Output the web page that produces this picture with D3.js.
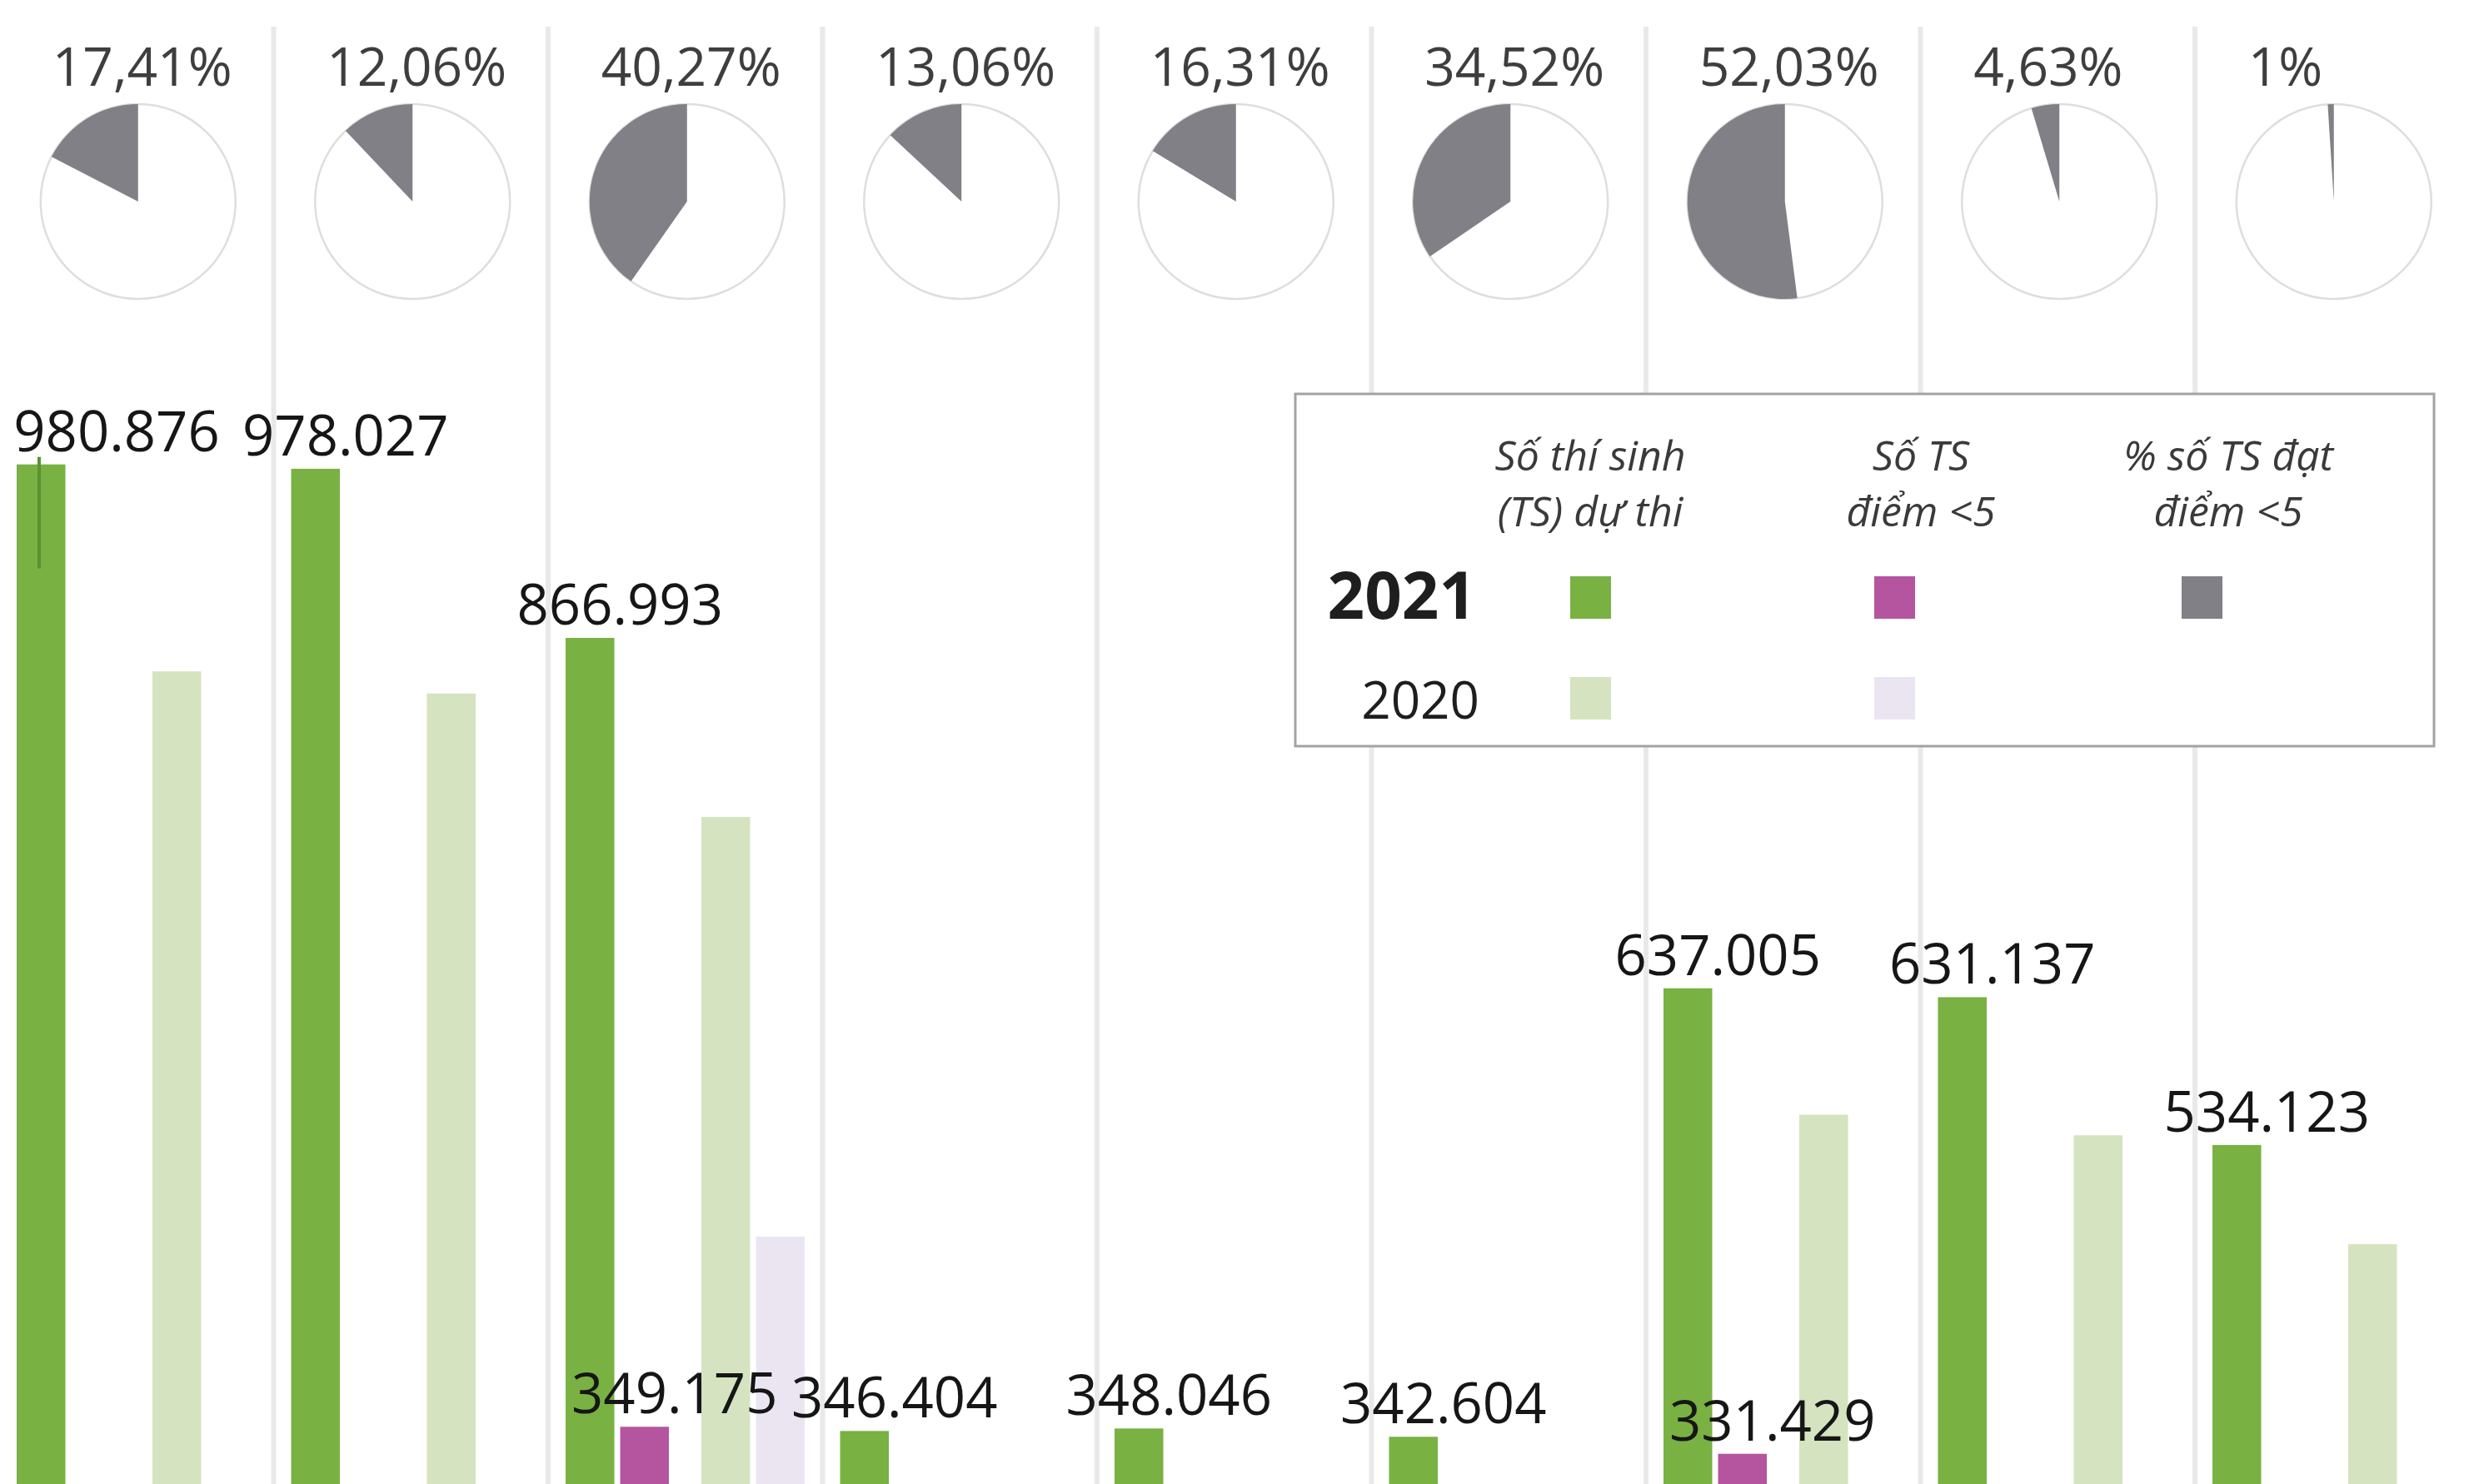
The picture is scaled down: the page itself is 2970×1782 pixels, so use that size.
<!DOCTYPE html>
<html>
<head>
<meta charset="utf-8">
<script src="https://cdn.jsdelivr.net/npm/d3@7"></script>
<style>
  html, body { margin: 0; padding: 0; background: #ffffff; }
  svg { display: block; }
  text { font-family: "Open Sans", "Noto Sans", "DejaVu Sans", sans-serif; }
</style>
</head>
<body>
<script>
// ---------------- data ----------------
const categories = ["Toán", "Ngữ văn", "Tiếng Anh", "Vật lí", "Hóa học", "Sinh học", "Lịch sử", "Địa lí", "GDCD"];
const years = ["2021", "2020"];
const metrics = ["total", "below5"];
// Số thí sinh dự thi
const total2021 = [980876, 978027, 866993, 346404, 348046, 342604, 637005, 631137, 534123];
const total2020 = [845000, 830500, 749500, null, null, null, 554000, 540500, 469000];
// Số TS điểm <5 (null = not visible in the picture)
const below2021 = [null, null, 349175, null, null, null, 331429, null, null];
const below2020 = [null, null, 474000, null, null, null, null, null, null];
// % số TS đạt điểm <5 (2021)
const pctBelow5 = [17.41, 12.06, 40.27, 13.06, 16.31, 34.52, 52.03, 4.63, 1];
// labelled series
const labelledTotals = [true, true, true, true, true, true, true, true, true];
const labelledBelow = [false, false, true, false, false, false, true, false, false];
// legend texts
const legendHeaders = [["Số thí sinh", "(TS) dự thi"], ["Số TS", "điểm <5"], ["% số TS đạt", "điểm <5"]];

// ---------------- layout ----------------
const W = 2970, H = 1782;
const colors = {
  "2021|total": "#79b143",
  "2021|below5": "#b5559f",
  "2020|total": "#d5e3c0",
  "2020|below5": "#ebe5f2",
  pct: "#808086"
};

const svg = d3.select("body").append("svg").attr("width", W).attr("height", H);
svg.append("rect").attr("width", W).attr("height", H).attr("fill", "#ffffff");

const x = d3.scaleBand().domain(categories).range([-1, 2964.5]).paddingInner(0).paddingOuter(0);
const xYear = d3.scaleBand().domain(years).range([21, 308]).paddingInner(0.239);
const xMetric = d3.scaleBand().domain(metrics).range([0, xYear.bandwidth()]).paddingInner(0.107);
const y = d3.scaleLinear().domain([0, 1000000]).range([2352, 522.7]);

// column separators
svg.append("g").selectAll("line")
  .data(categories.slice(1))
  .join("line")
  .attr("x1", d => x(d)).attr("x2", d => x(d))
  .attr("y1", 32).attr("y2", H)
  .attr("stroke", "#e9e9e9").attr("stroke-width", 6);

// ---------------- pies ----------------
const r = 117, pieCy = 242;
const arc = d3.arc().innerRadius(0).outerRadius(r);
const fmtPct = p => String(p).replace(".", ",") + "%";
const pies = svg.append("g").selectAll("g")
  .data(categories.map((c, i) => ({ c, p: pctBelow5[i] })))
  .join("g")
  .attr("transform", d => `translate(${x(d.c) + x.bandwidth() / 2 + 2},${pieCy})`);
pies.append("circle").attr("r", r).attr("fill", "#ffffff")
  .attr("stroke", "#dedede").attr("stroke-width", 2.5);
pies.append("path")
  .attr("d", d => arc({ startAngle: -2 * Math.PI * d.p / 100, endAngle: 0 }))
  .attr("fill", colors.pct);
pies.append("text")
  .attr("x", -r + 14).attr("y", 103 - pieCy)
  .attr("font-size", 64).attr("fill", "#3e3e3e")
  .text(d => fmtPct(d.p));

// ---------------- legend ----------------
const lg = svg.append("g");
lg.append("rect").attr("x", 1555).attr("y", 473).attr("width", 1367).attr("height", 423)
  .attr("fill", "#ffffff").attr("stroke", "#a3a3a3").attr("stroke-width", 3);
const headerX = [1909, 2306, 2675];
const swatchX = [1885, 2250, 2619];
legendHeaders.forEach((lines, i) => {
  lines.forEach((t, j) => {
    lg.append("text").attr("x", headerX[i]).attr("y", 565 + j * 67)
      .attr("text-anchor", "middle").attr("font-size", 50).attr("font-style", "italic")
      .attr("fill", "#3a3a3a").text(t);
  });
});
const rowY = { "2021": 692, "2020": 813 };
lg.append("text").attr("x", 1772).attr("y", 743).attr("text-anchor", "end")
  .attr("font-size", 78).attr("font-weight", "bold").attr("fill", "#1e1e1e").text(years[0]);
lg.append("text").attr("x", 1776).attr("y", 863).attr("text-anchor", "end")
  .attr("font-size", 62).attr("fill", "#1e1e1e").text(years[1]);
const swatches = [
  { yr: "2021", k: 0, c: colors["2021|total"] },
  { yr: "2021", k: 1, c: colors["2021|below5"] },
  { yr: "2021", k: 2, c: colors.pct },
  { yr: "2020", k: 0, c: colors["2020|total"] },
  { yr: "2020", k: 1, c: colors["2020|below5"] }
];
lg.selectAll("rect.sw").data(swatches).join("rect").attr("class", "sw")
  .attr("x", d => swatchX[d.k]).attr("y", d => rowY[d.yr])
  .attr("width", 49).attr("height", 51).attr("fill", d => d.c);

// ---------------- bars ----------------
const series = [
  { yr: "2021", m: "total", vals: total2021, lab: labelledTotals },
  { yr: "2021", m: "below5", vals: below2021, lab: labelledBelow },
  { yr: "2020", m: "total", vals: total2020, lab: null },
  { yr: "2020", m: "below5", vals: below2020, lab: null }
];
const bars = [];
series.forEach(s => s.vals.forEach((v, i) => {
  if (v != null) bars.push({ c: categories[i], i, yr: s.yr, m: s.m, v, lab: s.lab ? s.lab[i] : false });
}));
const bx = d => x(d.c) + xYear(d.yr) + xMetric(d.m);

svg.append("g").selectAll("rect")
  .data(bars).join("rect")
  .attr("x", bx).attr("y", d => y(d.v))
  .attr("width", xMetric.bandwidth())
  .attr("height", d => y(0) - y(d.v))
  .attr("fill", d => colors[d.yr + "|" + d.m]);

// small marker line on the first bar
const first = bars[0];
svg.append("line")
  .attr("x1", bx(first) + 27).attr("x2", bx(first) + 27)
  .attr("y1", y(first.v) - 9).attr("y2", y(first.v) + 125)
  .attr("stroke", "#5a9233").attr("stroke-width", 4);

// value labels
const fmtNum = v => d3.format(",")(v).replace(/,/g, ".");
svg.append("g").selectAll("text")
  .data(bars.filter(d => d.lab)).join("text")
  .attr("x", d => Math.max(bx(d) + xMetric.bandwidth() / 2 + 36, 140))
  .attr("y", d => y(d.v) - 16)
  .attr("text-anchor", "middle")
  .attr("font-size", 67).attr("fill", "#161616")
  .text(d => fmtNum(d.v));
</script>
</body>
</html>
